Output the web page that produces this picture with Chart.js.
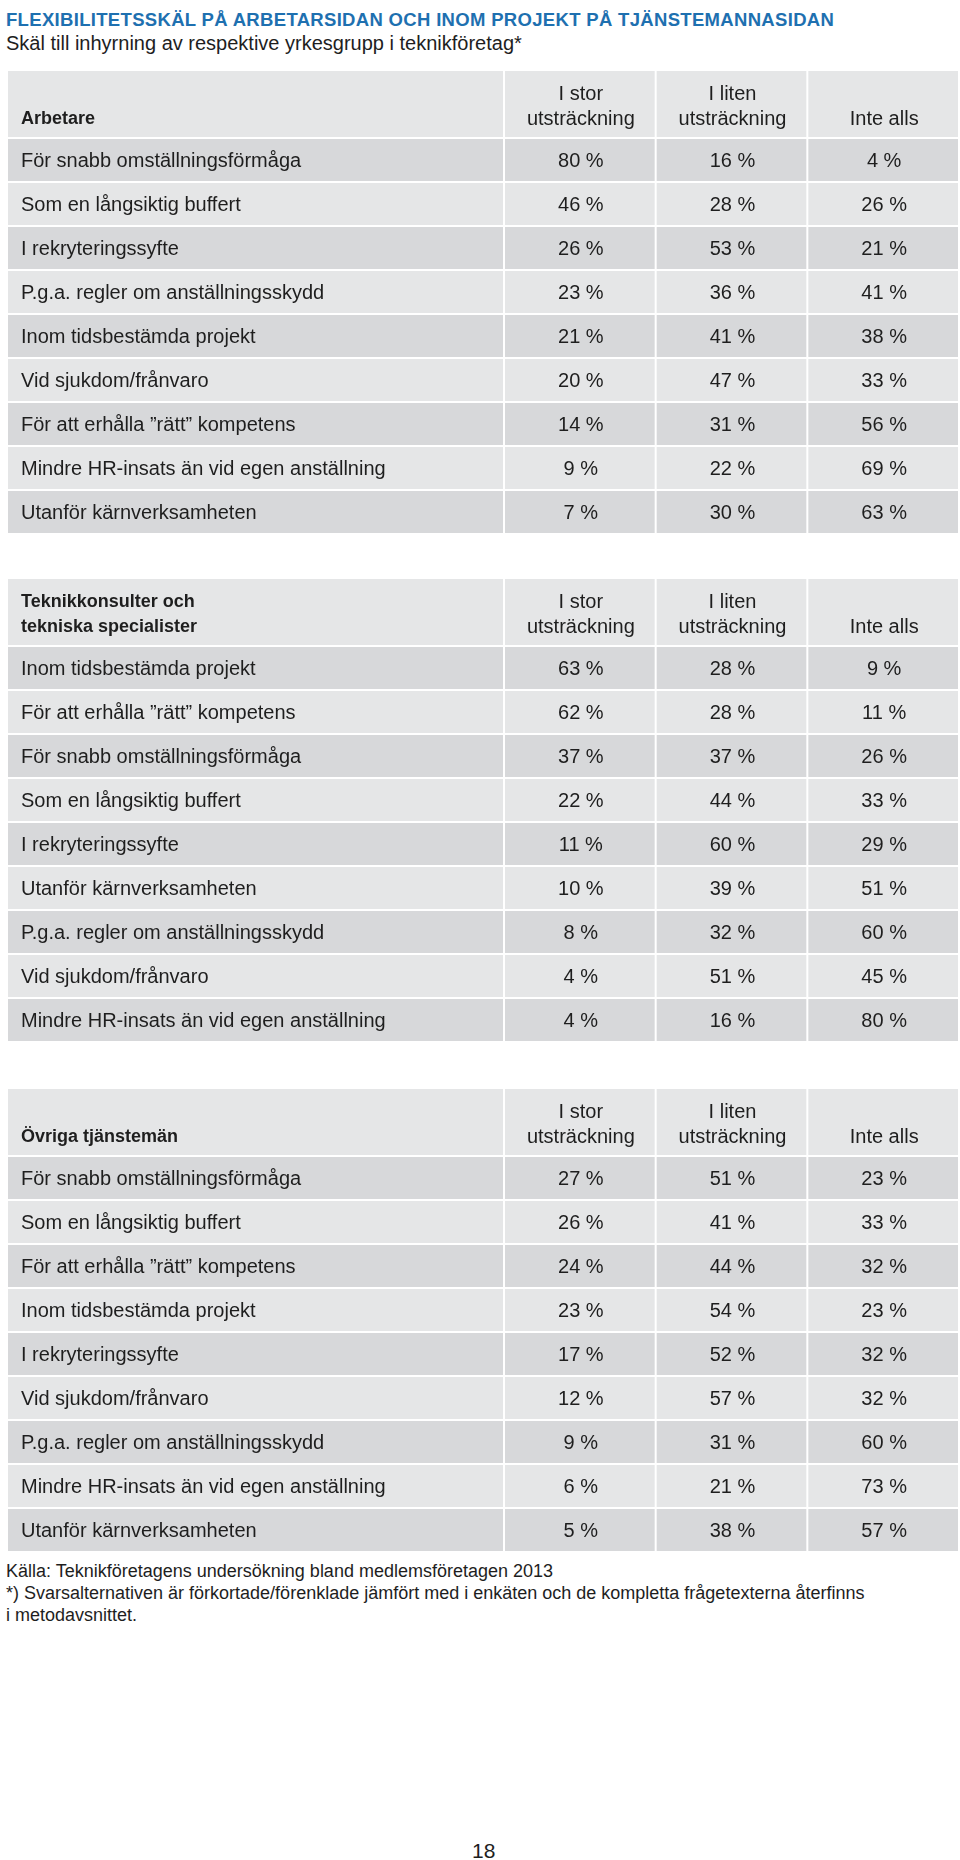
<!DOCTYPE html>
<html>
<head>
<meta charset="utf-8">
<script src="https://cdn.jsdelivr.net/npm/chart.js@4.4.1/dist/chart.umd.min.js"></script>
<style>
	body { margin: 0; background: #fff; font-family: "Liberation Sans", Arial, sans-serif; color: #1e1e1e; }
	#page { position: relative; width: 960px; height: 1860px; overflow: hidden; }
	.txt { position: absolute; white-space: nowrap; }
	#title { left: 6px; top: 9px; font-size: 18.5px; line-height: 22px; font-weight: bold; color: #1e70b0; display: inline-block; }
	#subtitle { left: 6px; top: 32px; font-size: 20px; line-height: 22px; }
	#notes { left: 6px; top: 1560px; font-size: 18px; line-height: 22px; }
	#pagenr { left: 472px; top: 1840px; font-size: 21px; line-height: 22px; }
	canvas { position: absolute; left: 0; }
</style>
</head>
<body>
<div id="page">
	<div class="txt" id="title">FLEXIBILITETSSKÄL PÅ ARBETARSIDAN OCH INOM PROJEKT PÅ TJÄNSTEMANNASIDAN</div>
	<div class="txt" id="subtitle">Skäl till inhyrning av respektive yrkesgrupp i teknikföretag*</div>
	<canvas id="tab1" width="960" height="464" style="top:71px"></canvas>
	<canvas id="tab2" width="960" height="464" style="top:579px"></canvas>
	<canvas id="tab3" width="960" height="464" style="top:1089px"></canvas>
	<div class="txt" id="notes">Källa: Teknikföretagens undersökning bland medlemsföretagen 2013<br>*) Svarsalternativen är förkortade/förenklade jämfört med i enkäten och de kompletta frågetexterna återfinns<br>i metodavsnittet.</div>
	<div class="txt" id="pagenr">18</div>
</div>
<script>
// Kolumner (samma i alla tre tabellerna)
var columns = ['I stor utsträckning', 'I liten utsträckning', 'Inte alls'];
var columnHeads = [['I stor', 'utsträckning'], ['I liten', 'utsträckning'], ['Inte alls']];

// Arbetare
var group1 = ['Arbetare'];
var rows1 = ['För snabb omställningsförmåga', 'Som en långsiktig buffert', 'I rekryteringssyfte',
	'P.g.a. regler om anställningsskydd', 'Inom tidsbestämda projekt', 'Vid sjukdom/frånvaro',
	'För att erhålla ”rätt” kompetens', 'Mindre HR-insats än vid egen anställning', 'Utanför kärnverksamheten'];
var stor1 = [80, 46, 26, 23, 21, 20, 14, 9, 7];
var liten1 = [16, 28, 53, 36, 41, 47, 31, 22, 30];
var inte1 = [4, 26, 21, 41, 38, 33, 56, 69, 63];

// Teknikkonsulter och tekniska specialister
var group2 = ['Teknikkonsulter och', 'tekniska specialister'];
var rows2 = ['Inom tidsbestämda projekt', 'För att erhålla ”rätt” kompetens', 'För snabb omställningsförmåga',
	'Som en långsiktig buffert', 'I rekryteringssyfte', 'Utanför kärnverksamheten',
	'P.g.a. regler om anställningsskydd', 'Vid sjukdom/frånvaro', 'Mindre HR-insats än vid egen anställning'];
var stor2 = [63, 62, 37, 22, 11, 10, 8, 4, 4];
var liten2 = [28, 28, 37, 44, 60, 39, 32, 51, 16];
var inte2 = [9, 11, 26, 33, 29, 51, 60, 45, 80];

// Övriga tjänstemän
var group3 = ['Övriga tjänstemän'];
var rows3 = ['För snabb omställningsförmåga', 'Som en långsiktig buffert', 'För att erhålla ”rätt” kompetens',
	'Inom tidsbestämda projekt', 'I rekryteringssyfte', 'Vid sjukdom/frånvaro',
	'P.g.a. regler om anställningsskydd', 'Mindre HR-insats än vid egen anställning', 'Utanför kärnverksamheten'];
var stor3 = [27, 26, 24, 23, 17, 12, 9, 6, 5];
var liten3 = [51, 41, 44, 54, 52, 57, 31, 21, 38];
var inte3 = [23, 33, 32, 23, 32, 32, 60, 73, 57];

var FONT = '"Liberation Sans", Arial, sans-serif';
var DARK = '#d7d8da', LIGHT = '#e5e6e7', INK = '#1e1e1e';

var _each = function(arr, fn) { for (var i = 0; i < arr.length; i++) fn(arr[i], i); };

// Plugin som ritar tabellcellerna utifran skalorna
var tablePlugin = {
	id: 'tableCells',
	beforeDatasetsDraw: function(chart) {
		var ctx = chart.ctx, xs = chart.scales.x, ys = chart.scales.y;
		var head = chart.options.plugins.tableCells.head;
		var nRows = ys.getLabels().length;
		var rowH = ys.getPixelForValue(1) - ys.getPixelForValue(0);
		var colW = xs.getPixelForValue(1) - xs.getPixelForValue(0);
		var labelX0 = 8, labelX1 = xs.left - 2;
		var headTop = 0, headBot = ys.top - 2;
		ctx.save();

		// rubrikrad
		ctx.fillStyle = LIGHT;
		ctx.fillRect(labelX0, headTop, labelX1 - labelX0, headBot - headTop);
		_each(columns, function(c, j) {
			var xc = xs.getPixelForValue(j);
			ctx.fillRect(xc - colW / 2, headTop, colW - 2, headBot - headTop);
		});
		ctx.fillStyle = INK;
		ctx.textBaseline = 'middle';
		ctx.textAlign = 'left';
		ctx.font = 'bold 18px ' + FONT;
		var gy = head.length === 1 ? [48] : [23, 48];
		_each(head, function(line, k) { ctx.fillText(line, 21, headTop + gy[k]); });
		ctx.font = '20px ' + FONT;
		ctx.textAlign = 'center';
		_each(columnHeads, function(lines, j) {
			var xc = xs.getPixelForValue(j);
			var ly = lines.length === 1 ? [48] : [23, 48];
			_each(lines, function(line, k) { ctx.fillText(line, xc, headTop + ly[k]); });
		});

		// datarader
		for (var i = 0; i < nRows; i++) {
			var yc = ys.getPixelForValue(i);
			var top = yc - rowH / 2;
			ctx.fillStyle = i % 2 === 0 ? DARK : LIGHT;
			ctx.fillRect(labelX0, top, labelX1 - labelX0, rowH - 2);
			for (var j = 0; j < columns.length; j++) {
				var xc = xs.getPixelForValue(j);
				ctx.fillRect(xc - colW / 2, top, colW - 2, rowH - 2);
			}
			ctx.fillStyle = INK;
			ctx.textAlign = 'left';
			ctx.fillText(ys.getLabelForValue(i), 21, yc);
		}
		ctx.restore();
	},
	afterDatasetsDraw: function(chart) {
		var ctx = chart.ctx;
		ctx.save();
		ctx.fillStyle = INK;
		ctx.font = '20px ' + FONT;
		ctx.textAlign = 'center';
		ctx.textBaseline = 'middle';
		chart.data.datasets.forEach(function(ds, d) {
			var meta = chart.getDatasetMeta(d);
			meta.data.forEach(function(pt, i) {
				ctx.fillText(ds.data[i].v + ' %', pt.x, pt.y);
			});
		});
		ctx.restore();
	}
};

// Bygger dataset: en punkt per cell (kolumn x rad)
var composeCells = function(rows, series) {
	return series.map(function(vals, j) {
		return {
			label: columns[j],
			data: rows.map(function(r, i) { return { x: columns[j], y: r, v: vals[i] }; }),
			showLine: false,
			pointRadius: 0,
			pointHoverRadius: 0
		};
	});
};

var renderTable = function(id, head, rows, series) {
	return new Chart(document.getElementById(id), {
		type: 'line',
		data: { datasets: composeCells(rows, series) },
		options: {
			responsive: false,
			animation: false,
			devicePixelRatio: 1,
			layout: { padding: { top: 68, left: 505, right: 0, bottom: 0 } },
			scales: {
				x: { type: 'category', labels: columns, offset: true, display: false },
				y: { type: 'category', labels: rows, offset: true, display: false }
			},
			plugins: {
				legend: { display: false },
				tooltip: { enabled: false },
				tableCells: { head: head }
			}
		},
		plugins: [tablePlugin]
	});
};

renderTable('tab1', group1, rows1, [stor1, liten1, inte1]);
renderTable('tab2', group2, rows2, [stor2, liten2, inte2]);
renderTable('tab3', group3, rows3, [stor3, liten3, inte3]);

// Rubriken ska spanna ca 828 px
var t = document.getElementById('title');
var tw = t.getBoundingClientRect().width;
t.style.letterSpacing = ((828 - tw) / (t.textContent.length - 1)).toFixed(2) + 'px';
</script>
</body>
</html>
